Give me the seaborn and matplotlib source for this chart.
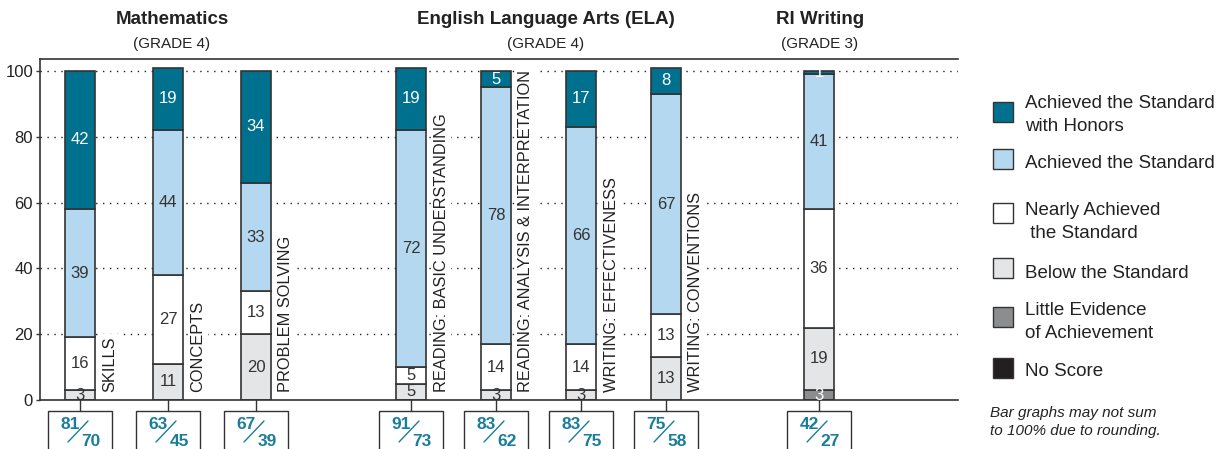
import numpy as np
import matplotlib.pyplot as plt
import seaborn as sns
from matplotlib.patches import Rectangle
from matplotlib.lines import Line2D

# data
categories = ["SKILLS", "CONCEPTS", "PROBLEM SOLVING",
              "READING: BASIC UNDERSTANDING", "READING: ANALYSIS & INTERPRETATION",
              "WRITING: EFFECTIVENESS", "WRITING: CONVENTIONS", ""]
little = [0, 0, 0, 0, 0, 0, 0, 3]
below = [3, 11, 20, 5, 3, 3, 13, 19]
nearly = [16, 27, 13, 5, 14, 14, 13, 36]
achieved = [39, 44, 33, 72, 78, 66, 67, 41]
honors = [42, 19, 34, 19, 5, 17, 8, 1]
noscore = [0, 0, 0, 0, 0, 0, 0, 0]
pct_top = [81, 63, 67, 91, 83, 83, 75, 42]
pct_bottom = [70, 45, 39, 73, 62, 75, 58, 27]

subjects = ["Mathematics", "English Language Arts (ELA)", "RI Writing"]
grades = ["(GRADE 4)", "(GRADE 4)", "(GRADE 3)"]

levels = ["Little Evidence\nof Achievement", "Below the Standard",
          "Nearly Achieved\n the Standard", "Achieved the Standard",
          "Achieved the Standard\nwith Honors", "No Score"]
series = [little, below, nearly, achieved, honors, noscore]
colors = ["#8c8d8f", "#e4e5e7", "#ffffff", "#b5d8f1", "#00708f", "#231f20"]
txtcol = ["white", "#333333", "#333333", "#333333", "white", "white"]

# layout (pixel-like x units)
xpos = [40, 128, 216, 371, 456, 541, 626, 779]
title_x = [172, 546, 820]
W, H = 1223, 449

sns.set_theme(style="white")
plt.rcParams['font.family'] = ['Liberation Sans', 'DejaVu Sans']

fig = plt.figure(figsize=(W / 100, H / 100), dpi=100)
ax = fig.add_axes([40 / W, 1 - 400 / H, 918 / W, 341 / H])
ax.set_xlim(0, 918)
ax.set_ylim(0, 103.6)
edge = "#333333"

for y in [20, 40, 60, 80, 100]:
    ax.axhline(y, color="#222222", lw=1.0, ls=(0, (1, 4)), zorder=0)

bottom = np.zeros(len(xpos))
for s, c, tc in zip(series, colors, txtcol):
    vals = np.array(s, dtype=float)
    for i, v in enumerate(vals):
        if v <= 0:
            continue
        ax.bar(xpos[i], v, bottom=bottom[i], width=30, color=c,
               edgecolor=edge, linewidth=1.2, zorder=2)
        ax.text(xpos[i], bottom[i] + v / 2, f"{int(v)}", ha="center", va="center",
                fontsize=12, color=tc, zorder=3)
    bottom += vals

for i, lab in enumerate(categories):
    if lab:
        ax.text(xpos[i] + 30, 2.4, lab, rotation=90, ha="center", va="bottom",
                fontsize=11.8, color="#222222", zorder=3,
                bbox=dict(boxstyle="square,pad=0.15", fc="white", ec="none"))

# percent boxes under the bars
u = 100 / 329.0
for i, x in enumerate(xpos):
    ax.add_line(Line2D([x, x], [0, -11 * u], color=edge, lw=1, clip_on=False))
    ax.add_patch(Rectangle((x - 32, -60 * u), 64, 49 * u, fc="white", ec=edge,
                           lw=1, clip_on=False))
    ax.add_line(Line2D([x - 12, x + 8], [-42 * u, -21 * u], color="#1a7d9a", lw=1.0,
                       clip_on=False))
    ax.text(x - 10, -24 * u, str(pct_top[i]), ha="center", va="center",
            fontsize=12.5, fontweight="bold", color="#1a7d9a")
    ax.text(x + 11, -41 * u, str(pct_bottom[i]), ha="center", va="center",
            fontsize=12.5, fontweight="bold", color="#1a7d9a")

ax.set_xticks([])
ax.set_yticks([0, 20, 40, 60, 80, 100])
ax.tick_params(axis="y", labelsize=12, length=3, width=1, color=edge,
               labelcolor="#222222", pad=2, left=True)
ax.spines["right"].set_visible(False)
for sp in ["left", "top", "bottom"]:
    ax.spines[sp].set_color(edge)
    ax.spines[sp].set_linewidth(1.2)

# titles
for tx, s, g in zip(title_x, subjects, grades):
    fig.text(tx / W, 1 - 20 / H, s, ha="center", va="center", fontsize=13.5,
             fontweight="bold", color="#222222")
    fig.text(tx / W, 1 - 44 / H, g, ha="center", va="center", fontsize=11,
             color="#222222")

# legend
order = [4, 3, 2, 1, 0, 5]
leg_patch_y = [112, 159, 213, 268, 317, 368]
leg_text_y = [115, 163, 222, 273, 322, 372]
for j, k in enumerate(order):
    py = leg_patch_y[j]
    fig.add_artist(Rectangle((993 / W, 1 - (py + 10) / H), 20 / W, 20 / H,
                             transform=fig.transFigure, fc=colors[k], ec=edge, lw=1))
    fig.text(1025 / W, 1 - leg_text_y[j] / H, levels[k], ha="left", va="center",
             fontsize=13.5, color="#222222", linespacing=1.45)

fig.text(990 / W, 1 - 422 / H, "Bar graphs may not sum\nto 100% due to rounding.",
         ha="left", va="center", fontsize=11, style="italic", color="#222222",
         linespacing=1.3)

fig.savefig("out.png", dpi=100)
